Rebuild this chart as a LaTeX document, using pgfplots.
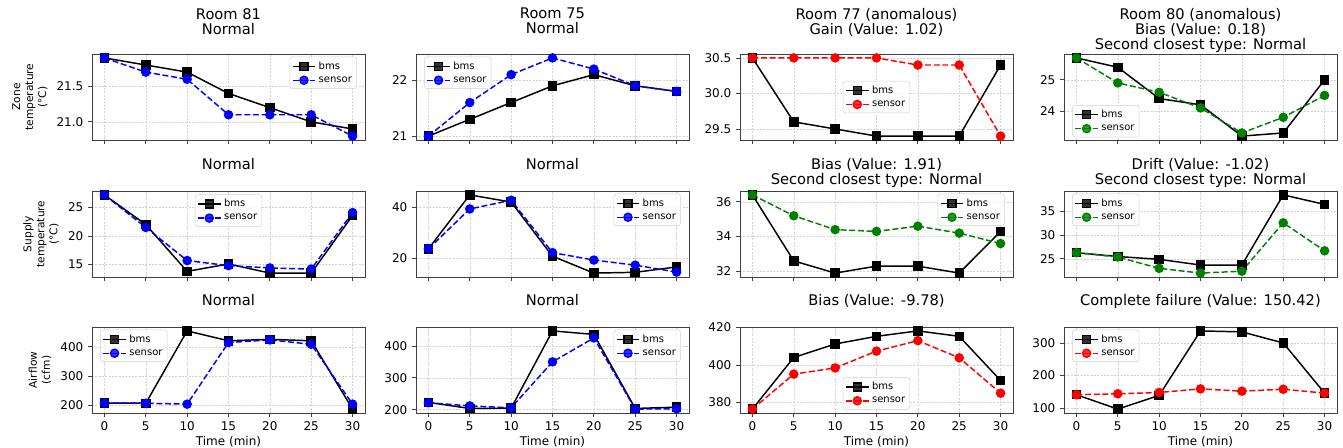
\documentclass[border=0pt]{standalone}
\usepackage{fontspec}
\setmainfont{DejaVu Sans}
\usepackage{pgfplots}
\pgfplotsset{compat=1.18}
\definecolor{mgreen}{RGB}{0,128,0}
\definecolor{mblue}{RGB}{0,0,255}
\definecolor{mred}{RGB}{255,0,0}
\pgfplotsset{
 panel/.style={
  scale only axis, width=204.75pt, height=64.5pt,
  anchor=north west,
  xmin=-1.5, xmax=31.5,
  enlarge y limits=0.05,
  xtick={0,5,10,15,20,25,30},
  grid=major,
  grid style={dash pattern=on 1.5pt off 1pt, gray!35, line width=0.4pt},
  axis line style={black!75, line width=0.6pt},
  tick align=outside, tick pos=left,
  major tick length=3pt,
  every tick/.style={black!75, line width=0.6pt},
  tick label style={font=\fontsize{9}{10}\selectfont},
  /pgf/number format/assume math mode=true,
  scaled y ticks=false,
  title style={font=\fontsize{11}{11.25}\selectfont, align=center, at={(0.5,1)}, anchor=north, inner sep=0pt, yshift=18.5pt},
  ylabel style={font=\fontsize{8}{9.75}\selectfont, align=center},
  xlabel style={font=\fontsize{9}{10}\selectfont, yshift=3pt},
  legend style={font=\fontsize{7.5}{8.5}\selectfont, draw=gray!35, rounded corners=2pt, fill=white, fill opacity=0.8, text opacity=1, inner sep=1.5pt},
  legend cell align=left,
 },
 top/.style={panel, xticklabels={}},
 first/.style={top, title style={yshift=10.1pt}},
 bot/.style={panel, xlabel={Time (min)}},
 bms/.style={black, solid, line width=1.1pt, mark=square*, mark size=3pt, mark options={solid, fill=black}},
 sens/.style={color=#1, dash pattern=on 4.5pt off 2pt, line width=1.1pt, mark=*, mark size=3pt, mark options={solid, fill=#1}},
}
\begin{document}
\begin{tikzpicture}
\path[use as bounding box] (0,0) rectangle (1007.25pt,-336pt);
% Row 1
\begin{axis}[first, at={(69pt,-40.5pt)}, title={Room 81\\Normal}, ylabel={Zone\\temperature\\(°C)},
  ytick={21.0,21.5}, yticklabels={21.0,21.5}, legend pos=north east]
\addplot[bms] coordinates {(0,21.9)(5,21.8)(10,21.7)(15,21.4)(20,21.2)(25,21.0)(30,20.9)};
\addplot[sens=mblue] coordinates {(0,21.9)(5,21.7)(10,21.6)(15,21.1)(20,21.1)(25,21.1)(30,20.8)};
\legend{bms,sensor}
\end{axis}
\begin{axis}[first, at={(312pt,-40.5pt)}, title={Room 75\\Normal},
  ytick={21,22}, legend pos=north west]
\addplot[bms] coordinates {(0,21.0)(5,21.3)(10,21.6)(15,21.9)(20,22.1)(25,21.9)(30,21.8)};
\addplot[sens=mblue] coordinates {(0,21.0)(5,21.6)(10,22.1)(15,22.4)(20,22.2)(25,21.9)(30,21.8)};
\legend{bms,sensor}
\end{axis}
\begin{axis}[first, at={(555pt,-40.5pt)}, title={Room 77 (anomalous)\\Gain (Value: 1.02)},
  ytick={29.5,30.0,30.5}, yticklabels={29.5,30.0,30.5}, legend style={at={(0.5,0.5)}, anchor=center}]
\addplot[bms] coordinates {(0,30.5)(5,29.6)(10,29.5)(15,29.4)(20,29.4)(25,29.4)(30,30.4)};
\addplot[sens=mred] coordinates {(0,30.5)(5,30.5)(10,30.5)(15,30.5)(20,30.4)(25,30.4)(30,29.4)};
\legend{bms,sensor}
\end{axis}
\begin{axis}[first, at={(798pt,-40.5pt)}, title={Room 80 (anomalous)\\Bias (Value: 0.18)\\Second closest type: Normal},
  ytick={24,25}, legend pos=south west]
\addplot[bms] coordinates {(0,25.7)(5,25.4)(10,24.4)(15,24.2)(20,23.2)(25,23.3)(30,25.0)};
\addplot[sens=mgreen] coordinates {(0,25.7)(5,24.9)(10,24.6)(15,24.1)(20,23.3)(25,23.8)(30,24.5)};
\legend{bms,sensor}
\end{axis}
% Row 2
\begin{axis}[top, at={(69pt,-143.25pt)}, title={Normal}, ylabel={Supply\\temperature\\(°C)},
  ytick={15,20,25}, legend style={at={(0.5,0.96)}, anchor=north}]
\addplot[bms] coordinates {(0,27.2)(5,22.0)(10,13.8)(15,15.1)(20,13.5)(25,13.5)(30,23.6)};
\addplot[sens=mblue] coordinates {(0,27.2)(5,21.5)(10,15.7)(15,14.8)(20,14.4)(25,14.2)(30,24.1)};
\legend{bms,sensor}
\end{axis}
\begin{axis}[top, at={(312pt,-143.25pt)}, title={Normal},
  ytick={20,40}, legend pos=north east]
\addplot[bms] coordinates {(0,23.7)(5,44.8)(10,42.0)(15,20.8)(20,14.2)(25,14.5)(30,16.6)};
\addplot[sens=mblue] coordinates {(0,23.7)(5,39.3)(10,42.7)(15,22.2)(20,19.3)(25,17.3)(30,14.6)};
\legend{bms,sensor}
\end{axis}
\begin{axis}[top, at={(555pt,-143.25pt)}, title={Bias (Value: 1.91)\\Second closest type: Normal},
  ytick={32,34,36}, legend pos=north east]
\addplot[bms] coordinates {(0,36.4)(5,32.6)(10,31.9)(15,32.3)(20,32.3)(25,31.9)(30,34.3)};
\addplot[sens=mgreen] coordinates {(0,36.4)(5,35.2)(10,34.4)(15,34.3)(20,34.6)(25,34.2)(30,33.6)};
\legend{bms,sensor}
\end{axis}
\begin{axis}[top, at={(798pt,-143.25pt)}, title={Drift (Value: -1.02)\\Second closest type: Normal},
  ytick={25,30,35}, legend pos=north west]
\addplot[bms] coordinates {(0,26.3)(5,25.5)(10,24.9)(15,23.7)(20,23.7)(25,38.5)(30,36.5)};
\addplot[sens=mgreen] coordinates {(0,26.3)(5,25.4)(10,23.0)(15,22.0)(20,22.4)(25,32.6)(30,26.7)};
\legend{bms,sensor}
\end{axis}
% Row 3
\begin{axis}[bot, at={(69pt,-245.25pt)}, title={Normal}, ylabel={Airflow\\(cfm)},
  ytick={200,300,400}, legend pos=north west]
\addplot[bms] coordinates {(0,207)(5,206)(10,455)(15,421)(20,426)(25,421)(30,186)};
\addplot[sens=mblue] coordinates {(0,207)(5,206)(10,203)(15,415)(20,424)(25,409)(30,203)};
\legend{bms,sensor}
\end{axis}
\begin{axis}[bot, at={(312pt,-245.25pt)}, title={Normal},
  ytick={200,300,400}, legend pos=north east]
\addplot[bms] coordinates {(0,223)(5,204)(10,205)(15,447)(20,436)(25,204)(30,208)};
\addplot[sens=mblue] coordinates {(0,222)(5,212)(10,206)(15,350)(20,425)(25,202)(30,203)};
\legend{bms,sensor}
\end{axis}
\begin{axis}[bot, at={(555pt,-245.25pt)}, title={Bias (Value: -9.78)},
  ytick={380,400,420}, legend style={at={(0.5,0.04)}, anchor=south}]
\addplot[bms] coordinates {(0,376.4)(5,404.0)(10,411.2)(15,415.3)(20,418.2)(25,415.3)(30,391.7)};
\addplot[sens=mred] coordinates {(0,376.4)(5,395.1)(10,398.4)(15,407.4)(20,413.0)(25,403.8)(30,384.9)};
\legend{bms,sensor}
\end{axis}
\begin{axis}[bot, at={(798pt,-245.25pt)}, title={Complete failure (Value: 150.42)},
  ytick={100,200,300}, legend pos=north west]
\addplot[bms] coordinates {(0,141)(5,97)(10,139)(15,337)(20,334)(25,300)(30,146)};
\addplot[sens=mred] coordinates {(0,141)(5,144)(10,148)(15,159)(20,152)(25,158)(30,146)};
\legend{bms,sensor}
\end{axis}
\end{tikzpicture}
\end{document}
